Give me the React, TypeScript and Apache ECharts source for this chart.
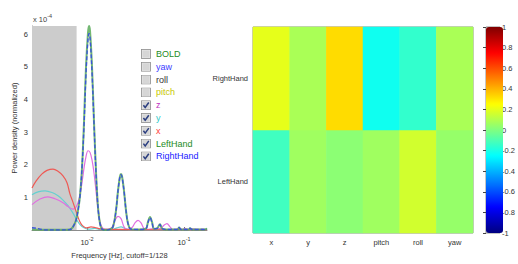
import React, { useEffect, useRef } from "react";
import * as echarts from "echarts";

// ---------- Spectrum data (frequency [Hz], power density x1e-4) ----------
const FREQ_MIN = 0.00271;
const FREQ_MAX = 0.1726;
const CUTOFF = 1 / 128;

const xFreq = [0.00271, 0.002979, 0.003437, 0.003869, 0.004462, 0.005023, 0.005656, 0.006221, 0.006679, 0.007172, 0.007701, 0.008076, 0.00847, 0.008882, 0.009537, 0.01, 0.01099, 0.01209, 0.01361, 0.01533, 0.02189, 0.03519, 0.1726];
const xPower = [1.29, 1.5, 1.72, 1.83, 1.87, 1.8, 1.66, 1.45, 1.1, 0.85, 0.58, 0.4, 0.25, 0.15, 0.08, 0.07, 0.1, 0.08, 0.04, 0.02, 0.02, 0.01, 0.01];

const yFreq = [0.00271, 0.003126, 0.00369, 0.004357, 0.005023, 0.005656, 0.00637, 0.007172, 0.007886, 0.00847, 0.009313, 0.01024, 0.01209, 0.01361, 0.0181, 0.02038, 0.02242, 0.02465, 0.02775, 0.1646, 0.1726];
const yPower = [1.08, 1.17, 1.2, 1.15, 1.05, 0.92, 0.75, 0.52, 0.3, 0.17, 0.07, 0.03, 0.05, 0.02, 0.02, 0.07, 0.1, 0.05, 0.01, 0.02, 0.05];

const zFreq = [0.00271, 0.003278, 0.003962, 0.004679, 0.005656, 0.00637, 0.007172, 0.007701, 0.008076, 0.00847, 0.008882, 0.009313, 0.009766, 0.01024, 0.01074, 0.01126, 0.01181, 0.01238, 0.01298, 0.01361, 0.01462, 0.01646, 0.0181, 0.01944, 0.02087, 0.02242, 0.02407, 0.02585, 0.0291, 0.03125, 0.03357, 0.03605, 0.0387, 0.04255, 0.04678, 0.05144, 0.05792, 0.0622, 0.06679, 0.07172, 0.07701, 0.0827, 0.0888, 0.09536, 0.1024, 0.11, 0.1238, 0.1361, 0.1533, 0.1726];
const zPower = [0.78, 0.95, 1.02, 0.96, 0.84, 0.72, 0.64, 0.7, 0.85, 1.08, 1.45, 1.9, 2.25, 2.43, 2.38, 2.15, 1.75, 1.2, 0.65, 0.25, 0.05, 0.02, 0.08, 0.3, 0.42, 0.35, 0.1, 0.02, 0.08, 0.22, 0.3, 0.22, 0.05, 0.02, 0.04, 0.02, 0.06, 0.15, 0.2, 0.1, 0.02, 0.02, 0.07, 0.02, 0.05, 0.02, 0.04, 0.02, 0.03, 0.01];

const leftFreq = [0.00271, 0.005267, 0.006679, 0.007172, 0.007701, 0.008076, 0.00847, 0.008882, 0.009313, 0.009766, 0.01024, 0.01049, 0.01074, 0.01126, 0.01181, 0.01238, 0.01298, 0.01361, 0.01428, 0.01533, 0.01726, 0.01853, 0.01991, 0.02087, 0.02189, 0.02242, 0.02296, 0.02407, 0.02524, 0.02647, 0.02842, 0.03519, 0.04058, 0.04255, 0.04462, 0.04678, 0.04905, 0.05267, 0.05656, 0.05932, 0.06522, 0.08671, 0.0888, 0.09313, 0.1126, 0.1153, 0.1209, 0.1646, 0.1726];
const leftPower = [0.02, 0.01, 0.02, 0.1, 0.3, 0.6, 1.05, 1.9, 3.3, 5.0, 6.05, 6.25, 6.1, 5.0, 3.3, 1.8, 0.7, 0.2, 0.03, 0.0, 0.02, 0.1, 0.6, 1.2, 1.65, 1.72, 1.65, 1.2, 0.6, 0.2, 0.03, 0.02, 0.05, 0.25, 0.4, 0.25, 0.04, 0.05, 0.18, 0.05, 0.02, 0.02, 0.08, 0.02, 0.02, 0.06, 0.02, 0.02, 0.05];

const rightFreq = [0.00271, 0.002979, 0.003278, 0.00369, 0.005267, 0.006679, 0.007172, 0.007701, 0.008076, 0.00847, 0.008882, 0.009313, 0.009766, 0.01024, 0.01049, 0.01074, 0.01126, 0.01181, 0.01238, 0.01298, 0.01361, 0.01428, 0.01533, 0.01726, 0.01853, 0.01991, 0.02087, 0.02189, 0.02242, 0.02296, 0.02407, 0.02524, 0.02647, 0.02842, 0.03519, 0.04058, 0.04255, 0.04462, 0.04678, 0.04905, 0.05267, 0.05656, 0.05932, 0.06522, 0.08671, 0.0888, 0.09313, 0.1126, 0.1153, 0.1209, 0.1726];
const rightPower = [0.07, 0.06, 0.03, 0.005, 0.005, 0.02, 0.1, 0.3, 0.6, 1.05, 1.9, 3.2, 4.8, 5.85, 6.02, 5.9, 4.85, 3.25, 1.75, 0.7, 0.2, 0.03, 0.0, 0.02, 0.1, 0.6, 1.2, 1.65, 1.7, 1.63, 1.2, 0.6, 0.2, 0.03, 0.02, 0.05, 0.23, 0.38, 0.23, 0.04, 0.05, 0.17, 0.05, 0.02, 0.02, 0.08, 0.02, 0.02, 0.06, 0.02, 0.02];

const powerMax = 6.25;

// ---------- Legend ----------
const legendNames = ["BOLD", "yaw", "roll", "pitch", "z", "y", "x", "LeftHand", "RightHand"];
const legendColors = ["#1e8c1e", "#3c3cff", "#333333", "#c8c800", "#c030c0", "#30c8c8", "#ff3c3c", "#1e8c1e", "#1a1aff"];
const legendChecked = [false, false, false, false, true, true, true, true, true];

// ---------- Correlation heatmap ----------
const motionParams = ["x", "y", "z", "pitch", "roll", "yaw"];
const handRows = ["LeftHand", "RightHand"];
const leftHandCorr = [-0.125, 0.063, 0.024, 0.063, 0.16, 0.044];
const rightHandCorr = [0.2, 0.083, 0.318, -0.22, -0.152, 0.083];
const jetColors = ["#000080", "#0000ff", "#0080ff", "#00ffff", "#80ff80", "#ffff00", "#ff8000", "#ff0000", "#800000"];

const FONT = "Liberation Sans, Arial, Helvetica, sans-serif";

function boxIcon(checked: boolean): string {
  const svg =
    "<svg xmlns='http://www.w3.org/2000/svg' width='20' height='20' viewBox='0 0 10 10'>" +
    "<rect x='0.5' y='0.5' width='9' height='9' fill='#ececec' stroke='#8c8c8c' stroke-width='0.8'/>" +
    "<rect x='1.4' y='1.4' width='7.2' height='7.2' fill='#d6d6d6'/>" +
    (checked ? "<path d='M2.4 5 L4.2 7.3 L7.8 2.3' stroke='#2c3f80' stroke-width='1.5' fill='none'/>" : "") +
    "</svg>";
  return "image://data:image/svg+xml;charset=utf-8," + encodeURIComponent(svg);
}

function zip(a: number[], b: number[]): number[][] {
  return a.map((v, i) => [v, b[i]]);
}

export default function App() {
  const ref = useRef<HTMLDivElement>(null);
  useEffect(() => {
    if (!ref.current) return;
    const chart = echarts.init(ref.current, undefined, { renderer: "svg" });

    const lineData: Record<string, number[][]> = {
      BOLD: [],
      yaw: [],
      roll: [],
      pitch: [],
      z: zip(zFreq, zPower),
      y: zip(yFreq, yPower),
      x: zip(xFreq, xPower),
      LeftHand: zip(leftFreq, leftPower),
      RightHand: zip(rightFreq, rightPower),
    };
    const lineColors: Record<string, string> = {
      BOLD: "#1e8c1e",
      yaw: "#3c3cff",
      roll: "#333333",
      pitch: "#c8c800",
      z: "#e070e0",
      y: "#66d0d0",
      x: "#ee5a55",
      LeftHand: "#5aab5a",
      RightHand: "#3a55d8",
    };
    const drawOrder = ["BOLD", "yaw", "roll", "pitch", "y", "z", "x", "LeftHand", "RightHand"];

    const heatData: number[][] = [];
    motionParams.forEach((_, i) => {
      heatData.push([i, 0, leftHandCorr[i]]);
      heatData.push([i, 1, rightHandCorr[i]]);
    });

    const lineSeries: any[] = drawOrder.map((name) => ({
      name,
      type: "line",
      xAxisIndex: 0,
      yAxisIndex: 0,
      data: lineData[name],
      showSymbol: false,
      symbol: "none",
      smooth: 0.35,
      z: 3,
      color: lineColors[name],
      lineStyle: {
        color: lineColors[name],
        width: name === "LeftHand" ? 2 : name === "RightHand" ? 1.4 : 1.2,
        type: name === "RightHand" ? [4, 2] : "solid",
        opacity: name === "LeftHand" ? 0.85 : 1,
      },
    }));

    const option: any = {
      animation: false,
      backgroundColor: "#ffffff",
      textStyle: { fontFamily: FONT },
      grid: [
        { left: 32, top: 26, width: 175, height: 207 },
        { left: 253, top: 27, width: 220, height: 206, show: true, borderColor: "#8c8c8c", borderWidth: 1 },
        { left: 486, top: 27, width: 17, height: 206, show: true, borderColor: "#8c8c8c", borderWidth: 1 },
      ],
      xAxis: [
        {
          gridIndex: 0,
          type: "log",
          logBase: 10,
          min: FREQ_MIN,
          max: FREQ_MAX,
          name: "Frequency [Hz], cutoff=1/128",
          nameLocation: "middle",
          nameGap: 17,
          nameTextStyle: { fontSize: 7.5, color: "#333", fontFamily: FONT },
          axisLine: { show: true, lineStyle: { color: "#8c8c8c", width: 1 } },
          axisTick: { show: true, inside: true, length: 3, lineStyle: { color: "#666" } },
          minorTick: { show: false },
          splitLine: { show: false },
          axisLabel: {
            showMinLabel: false,
            showMaxLabel: false,
            margin: 6,
            color: "#333",
            fontSize: 7.5,
            fontFamily: FONT,
            formatter: (v: number) => "10{sup|" + Math.round(Math.log10(v)) + "}",
            rich: { sup: { fontSize: 5.5, padding: [0, 0, 6, 0], color: "#333", fontFamily: FONT } },
          },
        },
        {
          gridIndex: 1,
          type: "category",
          data: motionParams,
          axisLine: { show: false },
          axisTick: { show: true, inside: true, alignWithLabel: true, length: 3, lineStyle: { color: "#444" } },
          axisLabel: { color: "#333", fontSize: 7.5, margin: 5, fontFamily: FONT },
          splitLine: { show: false },
        },
        { gridIndex: 2, type: "value", show: false, min: 0, max: 1 },
      ],
      yAxis: [
        {
          gridIndex: 0,
          type: "value",
          min: 0,
          max: powerMax,
          interval: 1,
          name: "Power density (normalized)",
          nameLocation: "middle",
          nameGap: 14,
          nameRotate: 90,
          nameTextStyle: { fontSize: 7.5, color: "#333", fontFamily: FONT },
          axisLine: { show: true, lineStyle: { color: "#8c8c8c", width: 1 } },
          axisTick: { show: true, inside: true, length: 3, lineStyle: { color: "#666" } },
          splitLine: { show: false },
          axisLabel: { showMinLabel: false, showMaxLabel: false, color: "#333", fontSize: 7.5, margin: 4, fontFamily: FONT },
        },
        {
          gridIndex: 1,
          type: "category",
          data: handRows,
          axisLine: { show: false },
          axisTick: { show: true, inside: true, alignWithLabel: true, length: 3, lineStyle: { color: "#444" } },
          axisLabel: { color: "#333", fontSize: 7.5, margin: 5, fontFamily: FONT },
          splitLine: { show: false },
        },
        {
          gridIndex: 2,
          type: "value",
          position: "right",
          min: -1,
          max: 1,
          interval: 0.2,
          axisLine: { show: false },
          axisTick: { show: true, inside: true, length: 3, lineStyle: { color: "#444" } },
          splitLine: { show: false },
          axisLabel: {
            color: "#333",
            fontSize: 7.5,
            margin: 2,
            fontFamily: FONT,
            formatter: (v: number) => String(Math.round(v * 10) / 10),
          },
        },
      ],
      visualMap: {
        type: "continuous",
        seriesIndex: drawOrder.length + 1,
        min: -1,
        max: 1,
        calculable: false,
        hoverLink: false,
        orient: "vertical",
        left: 486,
        top: 27,
        itemWidth: 17,
        itemHeight: 206,
        padding: 0,
        inRange: { color: jetColors },
      },
      legend: {
        orient: "vertical",
        left: 141,
        top: 49,
        itemWidth: 10,
        itemHeight: 10,
        itemGap: 2.8,
        padding: 0,
        selectedMode: false,
        textStyle: { fontSize: 9, fontFamily: FONT },
        data: legendNames.map((name, i) => ({
          name,
          icon: boxIcon(legendChecked[i]),
          textStyle: { color: legendColors[i], fontSize: 9, fontFamily: FONT },
        })),
      },
      graphic: [
        {
          type: "text",
          left: 33,
          top: 13,
          style: {
            text: "x 10{sup|-4}",
            fontSize: 7.5,
            fill: "#444",
            fontFamily: FONT,
            rich: { sup: { fontSize: 5.5, padding: [0, 0, 6, 0], fill: "#444", fontFamily: FONT } },
          },
        },
      ],
      series: [
        {
          name: "cutoffBand",
          type: "line",
          xAxisIndex: 0,
          yAxisIndex: 0,
          data: [[FREQ_MIN, 0]],
          symbol: "none",
          lineStyle: { width: 0 },
          z: 1,
          markArea: {
            silent: true,
            itemStyle: { color: "#cccccc" },
            data: [[{ xAxis: FREQ_MIN }, { xAxis: CUTOFF }]],
          },
        },
        ...lineSeries,
        {
          name: "corr",
          type: "heatmap",
          xAxisIndex: 1,
          yAxisIndex: 1,
          data: heatData,
          itemStyle: { borderWidth: 0 },
        },
      ],
    };

    chart.setOption(option);
    return () => chart.dispose();
  }, []);

  return (
    <div
      ref={ref}
      style={{ position: "fixed", left: 0, top: 0, width: 518, height: 264, background: "#fff" }}
    />
  );
}
